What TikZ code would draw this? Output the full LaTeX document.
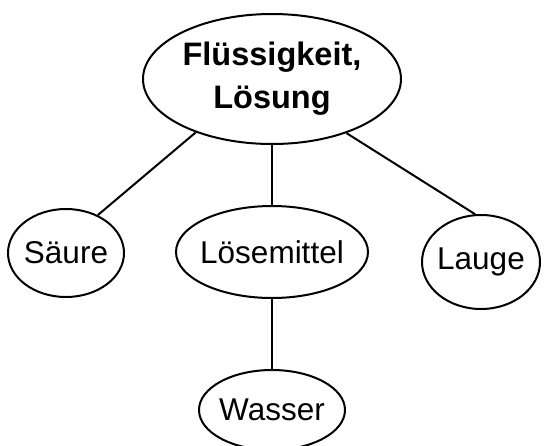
\documentclass[tikz,border=0pt]{standalone}
\usepackage{fontspec}
\setmainfont{Liberation Sans}
\usetikzlibrary{shapes.geometric}
\begin{document}
\begin{tikzpicture}[x=1pt,y=-1pt,
  bubble/.style={ellipse,draw,line width=2pt,inner xsep=-40pt,inner ysep=-20pt,font=\fontsize{31.5}{42}\selectfont},
  link/.style={line width=2pt}]
\useasboundingbox (0,0) rectangle (544,445);
\node[bubble,minimum width=258pt,minimum height=130pt,align=center,font=\bfseries\fontsize{32.5}{43}\selectfont] (top) at (272,79) {Flüssigkeit,\\Lösung};
\node[bubble,minimum width=116pt,minimum height=88pt] (saeure) at (66,253) {Säure};
\node[bubble,minimum width=192pt,minimum height=92pt] (loes) at (272,252) {Lösemittel};
\node[bubble,minimum width=118pt,minimum height=94pt] (lauge) at (481,262) {Lauge};
\node[bubble,minimum width=146pt,minimum height=80pt] (wasser) at (272,410) {Wasser};
\draw[link] (top.215) -- (saeure.50);
\draw[link] (top.south) -- (loes.north);
\draw[link] (top.324) -- (lauge.97);
\draw[link] (loes.south) -- (wasser.north);
\end{tikzpicture}
\end{document}
